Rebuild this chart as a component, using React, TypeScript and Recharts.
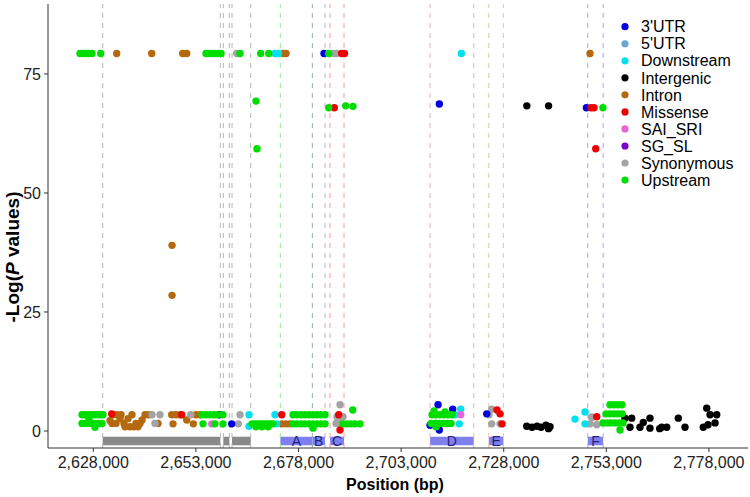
import React from 'react';
import { ScatterChart, Scatter, XAxis, YAxis, ReferenceLine, ReferenceArea } from 'recharts';

const FONT = '"Liberation Sans", Arial, Helvetica, sans-serif';

// ---- categories / colours ----
const categories = ["3'UTR", "5'UTR", 'Downstream', 'Intergenic', 'Intron', 'Missense', 'SAI_SRI', 'SG_SL', 'Synonymous', 'Upstream'];
const categoryColors = ['#0000DD', '#6CA6CD', '#00E0EE', '#000000', '#B5690F', '#EE0000', '#E566D8', '#7B00CC', '#A3A3A3', '#00DD00'];

// ---- series: [position (bp), -log(P)] ----
const utr3: number[][] = [
  [2684210, 79.3], [2712310, 68.7], [2748150, 67.9],
  [2658700, 3.4], [2661720, 1.5], [2712000, 5.5], [2715570, 4.6], [2712310, 0.2], [2710050, 1.2], [2723860, 3.6],
];
const utr5: number[][] = [[2749440, 2.9]];
const downstream: number[][] = [
  [2672270, 79.3], [2673080, 79.3], [2717670, 79.3],
  [2665940, 3.4], [2665940, 1.0], [2672270, 3.4], [2672690, 1.5],
  [2717520, 4.6], [2717180, 1.5], [2716130, 3.4],
  [2745370, 2.5], [2747810, 4.0], [2747810, 1.5],
];
const intergenic: number[][] = [
  [2733630, 68.3], [2738930, 68.3],
  [2733600, 1.0], [2734900, 0.8], [2736110, 1.0], [2737090, 0.8], [2738300, 1.2], [2739280, 0.9], [2738900, 0.5],
  [2757550, 2.7], [2759180, 2.7], [2758770, 0.8], [2761200, 0.8], [2762010, 1.8], [2763640, 2.7], [2763640, 0.6],
  [2766490, 0.8], [2767710, 0.8], [2766000, 0.5], [2770540, 2.7], [2772170, 0.8], [2776630, 0.8],
  [2777460, 4.8], [2778270, 3.4], [2779490, 1.7], [2779900, 3.4], [2777780, 1.3],
];
const intron: number[][] = [
  [2633700, 79.3], [2642230, 79.3], [2649780, 79.3], [2650760, 79.3], [2674300, 79.3], [2674960, 79.3], [2749030, 79.3],
  [2647180, 39.0], [2647180, 28.5],
  [2632800, 3.4], [2633770, 3.4], [2634750, 3.4], [2637430, 3.4], [2640600, 3.4], [2641570, 3.4],
  [2634510, 2.6], [2636460, 2.6], [2632560, 1.6], [2633530, 1.6], [2635480, 1.6], [2638400, 1.6],
  [2639380, 1.6], [2643760, 1.6], [2635720, 0.9], [2636940, 0.9], [2637920, 0.9], [2638890, 0.9],
  [2632070, 2.2], [2639870, 2.3], [2647100, 3.4], [2647420, 1.5], [2648150, 3.4], [2649130, 3.4],
  [2650760, 2.3], [2652370, 1.5], [2653020, 3.4], [2654000, 3.4],
  [2673980, 1.5], [2674960, 1.5], [2675930, 1.5],
];
const missense: number[][] = [
  [2688520, 79.3], [2689210, 79.3],
  [2686720, 67.9], [2749270, 67.9], [2750000, 67.9], [2750420, 59.3],
  [2632480, 3.6], [2649540, 3.4], [2673910, 3.4], [2688110, 0.2], [2687800, 3.4],
  [2727100, 3.6], [2726370, 4.4], [2727590, 1.5], [2750660, 3.0],
];
const saiSri: number[][] = [[2656850, 1.5], [2717520, 3.4]];
const sgSl: number[][] = [[2711500, 1.6]];
const synonymous: number[][] = [
  [2662940, 79.3], [2686480, 79.3], [2687310, 79.3],
  [2642300, 3.4], [2644250, 3.4], [2643030, 1.6], [2651730, 3.4], [2663330, 1.5], [2663750, 3.4],
  [2688110, 5.5], [2687380, 3.0], [2688110, 3.0], [2688840, 3.0], [2687140, 1.6], [2688350, 1.6],
  [2714110, 1.5], [2725070, 4.6], [2725070, 1.5], [2727100, 1.5], [2724420, 3.4],
  [2749440, 2.9], [2750660, 1.3], [2749030, 1.5],
];
const upstream: number[][] = [
  [2624760, 79.3], [2625490, 79.3], [2626220, 79.3], [2626950, 79.3], [2627680, 79.3], [2629800, 79.3],
  [2655460, 79.3], [2656190, 79.3], [2656920, 79.3], [2657650, 79.3], [2658390, 79.3], [2659120, 79.3],
  [2663750, 79.3], [2668790, 79.3], [2670740, 79.3], [2685360, 79.3],
  [2667640, 69.3], [2667890, 59.3], [2685360, 67.9], [2689500, 68.3], [2691260, 68.2], [2752170, 67.9],
  [2625250, 3.4], [2625980, 3.4], [2626710, 3.4], [2627440, 3.4], [2628170, 3.4], [2628900, 3.4], [2629630, 3.4], [2630360, 3.4],
  [2625250, 1.6], [2626220, 1.6], [2627200, 1.6], [2628170, 1.6], [2629150, 1.6], [2630120, 1.6],
  [2626950, 2.5], [2628410, 0.8],
  [2654490, 3.4], [2655460, 3.4], [2656440, 3.4], [2657410, 3.4], [2658140, 3.4], [2659600, 3.4],
  [2654730, 1.5], [2657650, 1.5], [2659600, 1.5],
  [2666670, 1.5], [2667400, 1.5], [2668130, 1.5], [2668860, 1.5], [2669590, 1.5], [2670320, 1.5], [2671060, 1.5], [2671790, 1.5],
  [2667640, 0.9], [2669110, 0.9], [2670570, 0.9],
  [2676660, 3.4], [2677640, 3.4], [2678610, 3.4], [2679580, 3.4], [2680560, 3.4], [2681530, 3.4], [2682510, 3.4], [2683480, 3.4], [2684460, 3.4],
  [2676660, 1.5], [2677640, 1.5], [2678610, 1.5], [2679580, 1.5], [2680560, 1.5], [2681530, 1.5], [2682510, 1.5], [2683480, 1.5], [2684460, 1.5],
  [2681530, 0.6], [2691210, 4.4],
  [2688840, 1.5], [2689820, 1.5], [2690790, 1.5], [2691770, 1.5], [2692990, 1.5],
  [2710540, 3.4], [2711500, 3.4], [2712480, 3.4], [2713460, 3.4], [2714430, 3.4], [2715400, 3.4],
  [2710290, 1.6], [2711270, 1.6], [2712240, 1.6], [2713210, 1.6], [2714190, 1.6], [2715160, 1.6],
  [2711020, 4.2], [2713700, 4.0], [2711500, 0.9],
  [2753890, 5.5], [2754870, 5.5], [2755840, 5.5], [2756820, 5.5],
  [2752920, 3.6], [2753890, 3.6], [2754870, 3.6], [2755840, 3.6], [2756820, 3.6],
  [2752190, 1.7], [2753160, 1.7], [2754140, 1.7], [2755110, 1.7], [2756090, 1.7], [2757060, 1.7], [2756330, 0.2],
];

// draw order (bottom to top)
const seriesOrder: [string, number[][]][] = [
  ['Intergenic', intergenic], ["5'UTR", utr5], ['SG_SL', sgSl], ['Intron', intron], ['Synonymous', synonymous],
  ['Downstream', downstream], ["3'UTR", utr3], ['Missense', missense], ['SAI_SRI', saiSri], ['Upstream', upstream],
];

// ---- dashed vertical marker lines: position, colour ----
const vlinePos = [2630290, 2658950, 2659680, 2661140, 2661800, 2666360, 2673570, 2681370, 2684460, 2685680, 2689090,
  2710050, 2720700, 2724360, 2727920, 2748490, 2752220];
const vlineColors = ['#B5B5B5', '#B5B5B5', '#B5B5B5', '#B5B5B5', '#B5B5B5', '#B5B5B5', '#9BE89B', '#9AAFA8', '#C5A8F0', '#F3A0A0', '#F39A9A',
  '#E8B0B0', '#E8B0B0', '#EEC49A', '#EEC49A', '#A8A8F5', '#A8A8F5'];

// ---- gene track boxes ----
const geneStart = [2630290, 2659680, 2661800, 2673570, 2681370, 2685680, 2710050, 2724360, 2748490];
const geneEnd = [2658950, 2661140, 2666360, 2681370, 2684460, 2689090, 2720700, 2727920, 2752220];
const geneLabels = ['', '', '', 'A', 'B', 'C', 'D', 'E', 'F'];

const xTicks = [2628000, 2653000, 2678000, 2703000, 2728000, 2753000, 2778000];
const yTicks = [0, 25, 50, 75];

const colorOf = (c: string) => categoryColors[categories.indexOf(c)];

const XTick = (p: any) => (
  <text x={p.x} y={p.y + 14} textAnchor="middle" fontSize={16} fontFamily={FONT} fill="#222">
    {Number(p.payload.value).toLocaleString('en-US')}
  </text>
);
const YTick = (p: any) => (
  <text x={p.x} y={p.y + 5.7} textAnchor="end" fontSize={16} fontFamily={FONT} fill="#222">
    {p.payload.value}
  </text>
);

export default function App() {
  return (
    <div style={{ position: 'absolute', left: 0, top: 0, width: 750, height: 497, background: '#fff' }}>
      <ScatterChart width={750} height={497} margin={{ top: 4, right: 2, bottom: 0, left: 0 }}>
        <XAxis
          type="number"
          dataKey="pos"
          domain={[2616960, 2787520]}
          ticks={xTicks}
          allowDataOverflow
          height={49}
          tickSize={4}
          tickMargin={2}
          stroke="#333"
          tick={<XTick />}
          label={{
            content: () => (
              <text x={395} y={490} textAnchor="middle" fontSize={16} fontWeight="bold" fontFamily={FONT} fill="#000">
                Position (bp)
              </text>
            ),
          }}
        />
        <YAxis
          type="number"
          dataKey="logp"
          domain={[-3.57, 89.7]}
          ticks={yTicks}
          allowDataOverflow
          width={48}
          tickSize={4}
          tickMargin={3}
          stroke="#333"
          tick={<YTick />}
          label={{
            content: () => (
              <text x={19} y={257} transform="rotate(-90 19 257)" textAnchor="middle" fontSize={19} fontWeight="bold" fontFamily={FONT} fill="#000">
                -Log(<tspan fontStyle="italic">P</tspan> values)
              </text>
            ),
          }}
        />
        {vlinePos.map((x, i) => (
          <ReferenceLine key={'v' + i} x={x} stroke={vlineColors[i]} strokeWidth={1} strokeDasharray="5 5" />
        ))}
        {geneStart.map((s, i) => (
          <ReferenceArea
            key={'g' + i}
            x1={s}
            x2={geneEnd[i]}
            y1={-3.0}
            y2={-1.2}
            fill={geneLabels[i] ? '#7F7FEE' : '#898989'}
            fillOpacity={1}
            stroke="none"
            label={geneLabels[i] ? { value: geneLabels[i], position: 'center', fill: '#1F1F80', fontSize: 14, fontFamily: FONT } : undefined}
          />
        ))}
        {seriesOrder.map(([name, pts]) => {
          const col = colorOf(name);
          return (
            <Scatter
              key={name}
              name={name}
              data={pts.map(([pos, logp]) => ({ pos, logp }))}
              isAnimationActive={false}
              shape={(p: any) => <circle cx={p.cx} cy={p.cy} r={3.7} fill={col} />}
            />
          );
        })}
      </ScatterChart>
      <svg width={750} height={497} style={{ position: 'absolute', left: 0, top: 0, pointerEvents: 'none' }}>
        {categories.map((c, i) => (
          <g key={c}>
            <circle cx={625} cy={26.7 + i * 17.04} r={3.6} fill={categoryColors[i]} />
            <text x={641} y={26.7 + i * 17.04 + 5.7} fontSize={16} fontFamily={FONT} fill="#000">
              {c}
            </text>
          </g>
        ))}
      </svg>
    </div>
  );
}
